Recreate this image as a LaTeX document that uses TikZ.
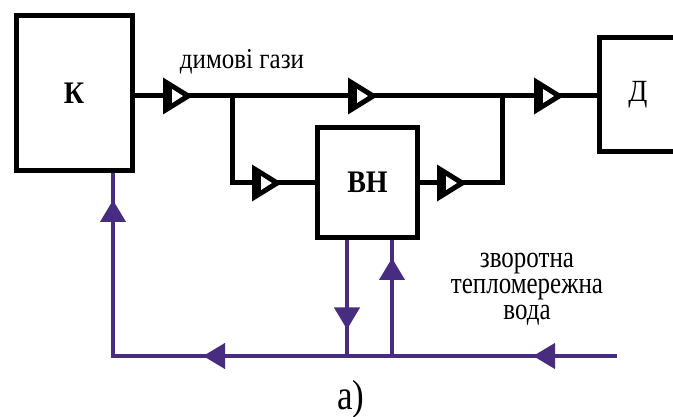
\documentclass[tikz,border=0pt]{standalone}
\usepackage{fontspec}
\setmainfont{Liberation Serif}
\usetikzlibrary{arrows.meta,decorations.markings,calc}
\pgfdeclarelayer{pipes}
\pgfsetlayers{pipes,main}
\definecolor{netviolet}{RGB}{72,44,128}
\newcommand{\tall}[2][1.2]{\scalebox{1}[#1]{#2}}
\tikzset{
  x=1pt, y=-1pt,
  wtip/.tip={Triangle[width=25pt,length=22pt]},
  unit/.style={draw=black, line width=5pt, fill=white, inner sep=0pt, font=\fontsize{28}{30}\selectfont\bfseries},
  gas/.style={draw=black, line width=5pt},
  water/.style={draw=netviolet, line width=4pt, postaction={decorate}},
  lbl/.style={font=\fontsize{25}{21.5}\selectfont, inner sep=0pt},
  valve/.pic={
    \fill[black] (-15,-18.5) -- (15,0) -- (-15,18.5) -- cycle;
    \fill[white] (-6,-7) -- (5,0) -- (-6,7) -- cycle;
  }
}
\begin{document}
\begin{tikzpicture}
\useasboundingbox (0,0) rectangle (673,417);
\clip (0,0) rectangle (673,417);

% units: boiler, recuperator, stack
\coordinate (kc) at (74,93.5);
\coordinate (vc) at (367.5,182.5);
\coordinate (dc) at (638,94.5);

% junctions of the flue-gas line
\coordinate (j1) at (232,96);
\coordinate (j2) at (502,96);
\coordinate (b1) at (232,183);
\coordinate (b2) at (502,183);

% junctions of the return water line
\coordinate (win) at (617,356);
\coordinate (w1) at (113,356);
\coordinate (w2) at (347,356);
\coordinate (w3) at (392,356);

% boxes
\node[unit, minimum width=116pt, minimum height=155pt] (K) at (kc) {\tall[1.12]{К}};
\node[unit, minimum width=100pt, minimum height=110pt] (VN) at (vc) {\tall[1.12]{ВН}};
\node[unit, minimum width=77pt, minimum height=114pt, font=\fontsize{28}{30}\selectfont] (D) at (dc) {\tall[1.1]{Д}};

% return water, kept under the boxes
\begin{pgfonlayer}{pipes}
\draw[water, decoration={markings,
    mark=at position 84pt with {\arrow[netviolet]{wtip}},
    mark=at position 414pt with {\arrow[netviolet]{wtip}},
    mark=at position 660pt with {\arrow[netviolet]{wtip}}}]
  (win) -- (w1) -- (w1 |- K.south);
\draw[water, decoration={markings,
    mark=at position 89.5pt with {\arrow[netviolet]{wtip}}}]
  (w2 |- VN.south) -- (w2);
\draw[water, decoration={markings,
    mark=at position 98pt with {\arrow[netviolet]{wtip}}}]
  (w3) -- (w3 |- VN.south);
\end{pgfonlayer}

% flue gas lines
\draw[gas] (K.east |- j1) -- (j1) -- (j2) -- (D.west |- j2);
\draw[gas] (j1) -- (b1) -- (VN.west |- b1);
\draw[gas] (VN.east |- b2) -- (b2) -- (j2);

% valves
\pic at (178,96) {valve};
\pic at (363,96) {valve};
\pic at (549,96) {valve};
\pic at (267,183) {valve};
\pic at (452,183) {valve};

% labels
\node[lbl] (gl) at (242,62) {\tall[1.15]{димові гази}};
\node[lbl] (wl) at (527,288) {\tall[1.22]{\begin{tabular}{@{}c@{}}зворотна\\тепломережна\\вода\end{tabular}}};
\node[lbl, font=\fontsize{35}{36}\selectfont] (cap) at (351,399) {\tall{а)}};
\end{tikzpicture}
\end{document}
